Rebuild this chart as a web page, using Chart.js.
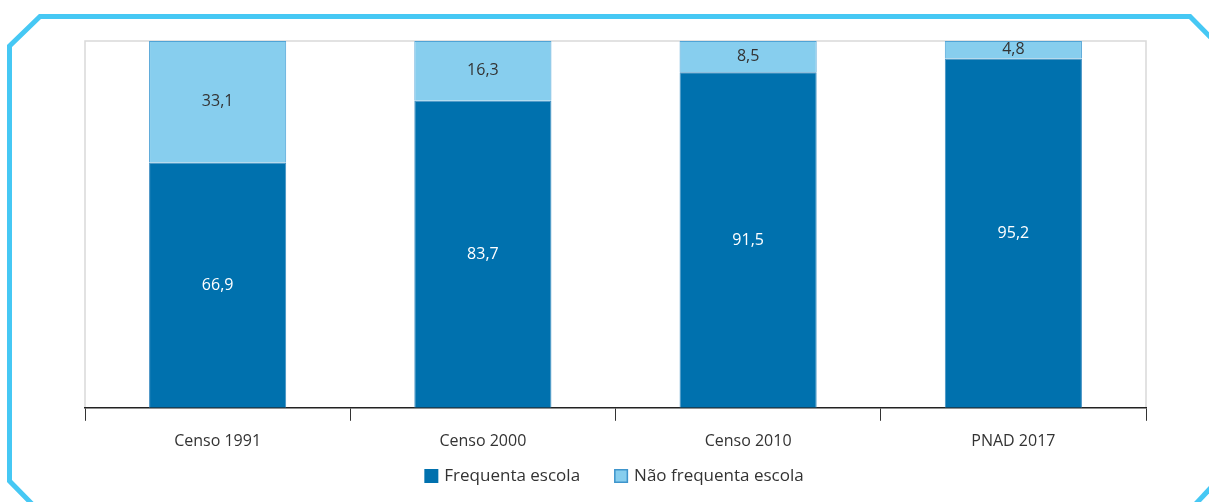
<!DOCTYPE html>
<html>
<head>
<meta charset="utf-8">
<script src="https://cdn.jsdelivr.net/npm/chart.js@4"></script>
<style>
html,body{margin:0;padding:0;background:#fff;}
#wrap{width:1209px;height:502px;position:relative;}
</style>
</head>
<body>
<div id="wrap"><canvas id="c" width="1209" height="502"></canvas></div>
<script>
const categories = ["Censo 1991", "Censo 2000", "Censo 2010", "PNAD 2017"];
const frequenta = [66.9, 83.7, 91.5, 95.2];
const naoFrequenta = [33.1, 16.3, 8.5, 4.8];
const seriesNames = ["Frequenta escola", "Não frequenta escola"];

const FONT = "'Open Sans', 'Noto Sans', sans-serif";
const FSIZE = 16;

const framePlugin = {
  id: 'frame',
  beforeDraw(chart) {
    const ctx = chart.ctx;
    const a = chart.chartArea;
    ctx.save();
    ctx.strokeStyle = '#46C8F4';
    ctx.lineWidth = 5;
    ctx.lineJoin = 'miter';
    ctx.beginPath();
    ctx.moveTo(34, 506);
    ctx.lineTo(9.5, 481);
    ctx.lineTo(9.5, 46);
    ctx.lineTo(40, 16.5);
    ctx.lineTo(1190, 16.5);
    ctx.lineTo(1225, 52);
    ctx.stroke();
    ctx.beginPath();
    ctx.moveTo(1190, 510);
    ctx.lineTo(1220, 478);
    ctx.stroke();
    ctx.strokeStyle = '#d9d9d9';
    ctx.lineWidth = 1.5;
    ctx.beginPath();
    ctx.moveTo(a.left, a.bottom);
    ctx.lineTo(a.left, a.top);
    ctx.lineTo(a.right, a.top);
    ctx.lineTo(a.right, a.bottom);
    ctx.stroke();
    ctx.restore();
  }
};

const labelPlugin = {
  id: 'valueLabels',
  afterDatasetsDraw(chart) {
    const ctx = chart.ctx;
    ctx.save();
    ctx.font = FSIZE + "px " + FONT;
    ctx.textAlign = 'center';
    ctx.textBaseline = 'middle';
    chart.data.datasets.forEach((ds, di) => {
      const meta = chart.getDatasetMeta(di);
      meta.data.forEach((el, i) => {
        const v = ds.data[i];
        const y = (el.y + el.base) / 2;
        ctx.fillStyle = di === 0 ? '#ffffff' : '#333333';
        ctx.fillText(v.toFixed(1).replace('.', ','), el.x, y);
      });
    });
    ctx.restore();
  }
};

const legendPlugin = {
  id: 'customLegend',
  afterDraw(chart) {
    const ctx = chart.ctx;
    ctx.save();
    ctx.font = "17px " + FONT;
    ctx.textBaseline = 'middle';
    ctx.textAlign = 'left';
    const box = 14, gapText = 6, gapItem = 34, cy = 476, cx = 614;
    const items = chart.data.datasets.map(ds => ({
      text: ds.label, fill: ds.backgroundColor, stroke: ds.legendBorder
    }));
    let total = 0;
    items.forEach((it, i) => {
      it.w = box + gapText + ctx.measureText(it.text).width;
      total += it.w + (i ? gapItem : 0);
    });
    let x = cx - total / 2;
    items.forEach(it => {
      ctx.fillStyle = it.fill;
      ctx.fillRect(x, cy - box / 2, box, box);
      if (it.stroke) {
        ctx.strokeStyle = it.stroke;
        ctx.lineWidth = 1.5;
        ctx.strokeRect(x + 0.75, cy - box / 2 + 0.75, box - 1.5, box - 1.5);
      }
      ctx.fillStyle = '#333333';
      ctx.fillText(it.text, x + box + gapText, cy);
      x += it.w + gapItem;
    });
    ctx.restore();
  }
};

new Chart(document.getElementById('c'), {
  type: 'bar',
  data: {
    labels: categories,
    datasets: [
      {
        label: seriesNames[0],
        data: frequenta,
        backgroundColor: '#0071AE',
        borderColor: '#3f8fc3',
        borderWidth: 1,
        categoryPercentage: 1,
        barPercentage: 0.517
      },
      {
        label: seriesNames[1],
        data: naoFrequenta,
        backgroundColor: '#87CEEE',
        borderColor: '#4FA3D6',
        legendBorder: '#3f95cc',
        borderWidth: 1,
        categoryPercentage: 1,
        barPercentage: 0.517
      }
    ]
  },
  options: {
    responsive: false,
    animation: false,
    devicePixelRatio: 1,
    layout: { padding: { left: 85, right: 63, top: 41, bottom: 40 } },
    plugins: {
      legend: { display: false },
      tooltip: { enabled: false }
    },
    scales: {
      x: {
        stacked: true,
        offset: true,
        grid: {
          display: true,
          drawOnChartArea: false,
          drawTicks: true,
          tickLength: 13,
          color: '#333333',
          offset: true
        },
        border: { display: true, color: '#222222', width: 1.5 },
        ticks: {
          color: '#333333',
          padding: 11,
          font: { family: FONT, size: FSIZE }
        }
      },
      y: {
        stacked: true,
        display: false,
        min: 0,
        max: 100
      }
    }
  },
  plugins: [framePlugin, labelPlugin, legendPlugin]
});
</script>
</body>
</html>
